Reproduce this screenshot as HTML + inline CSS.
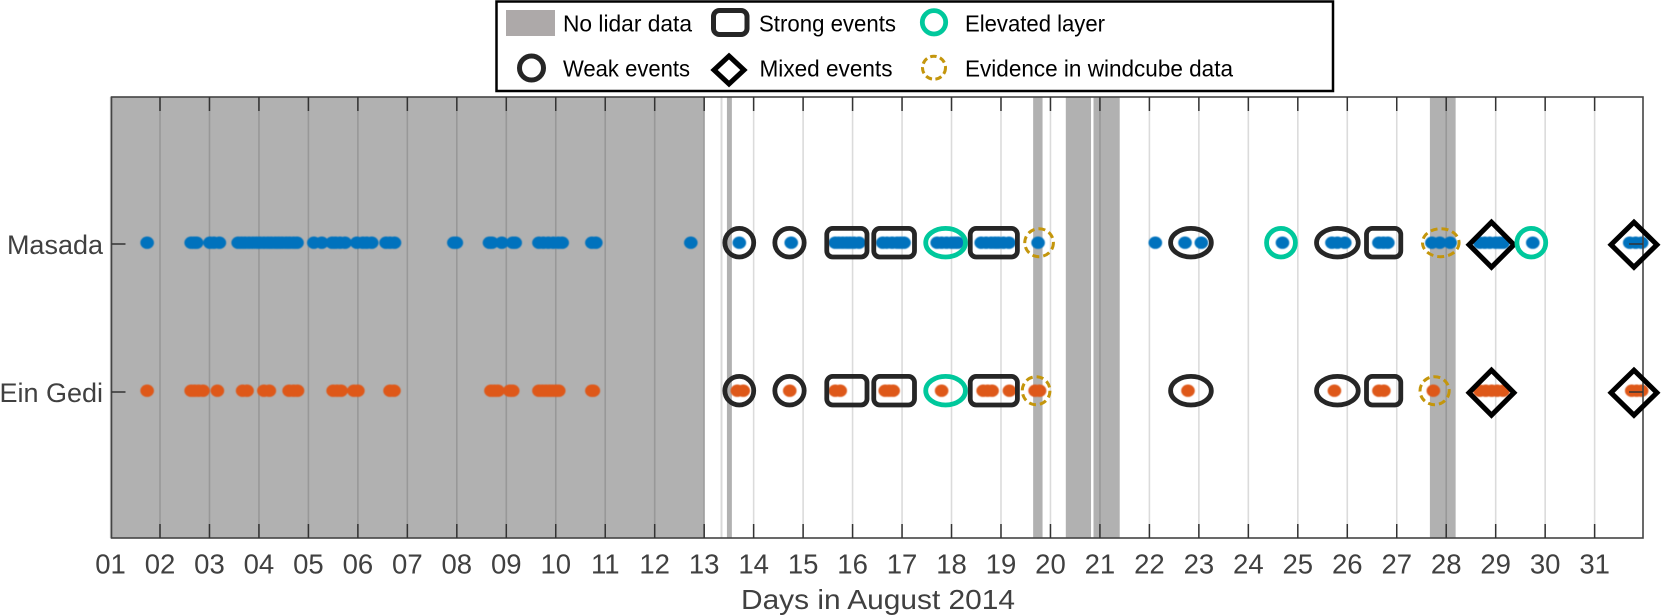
<!DOCTYPE html>
<html lang="en">
<head>
<meta charset="utf-8">
<title>Days in August 2014 event chart</title>
<style>
html,body{margin:0;padding:0;background:#fff;}
body{width:1661px;height:616px;overflow:hidden;}
svg{display:block;}
text{font-family:"Liberation Sans",sans-serif;}
</style>
</head>
<body>
<svg id="chart" xmlns="http://www.w3.org/2000/svg" width="1661" height="616" viewBox="0 0 1661 616">
  <g id="plot"></g>
  <g>
    <rect x="496.5" y="1.5" width="836.5" height="89.5" fill="#fff" stroke="#000" stroke-width="2.5"/>
    <rect x="506" y="10" width="49" height="26" fill="#ADA9A9"/>
    <text x="563" y="31.5" font-size="23" fill="#000" textLength="129" lengthAdjust="spacingAndGlyphs">No lidar data</text>
    <rect x="713.5" y="10.5" width="33.5" height="24" rx="6" fill="none" stroke="#262626" stroke-width="5"/>
    <text x="759" y="31.5" font-size="23" fill="#000" textLength="137" lengthAdjust="spacingAndGlyphs">Strong events</text>
    <circle cx="934" cy="22.3" r="11.7" fill="none" stroke="#00C89C" stroke-width="4.8"/>
    <text x="965" y="31.5" font-size="23" fill="#000" textLength="140" lengthAdjust="spacingAndGlyphs">Elevated layer</text>
    <circle cx="531.5" cy="68" r="12" fill="none" stroke="#262626" stroke-width="5"/>
    <text x="563" y="76.5" font-size="23" fill="#000" textLength="127" lengthAdjust="spacingAndGlyphs">Weak events</text>
    <polygon points="729,56 744,70 729,84 714,70" fill="none" stroke="#000" stroke-width="5"/>
    <text x="759.5" y="76.5" font-size="23" fill="#000" textLength="133" lengthAdjust="spacingAndGlyphs">Mixed events</text>
    <circle cx="934" cy="67.7" r="11.5" fill="none" stroke="#C4960C" stroke-width="3" stroke-dasharray="6.5 3.5"/>
    <text x="965" y="76.5" font-size="23" fill="#000" textLength="268" lengthAdjust="spacingAndGlyphs">Evidence in windcube data</text>
  </g>
</svg>
<script>
const dayTicks = [1,2,3,4,5,6,7,8,9,10,11,12,13,14,15,16,17,18,19,20,21,22,23,24,25,26,27,28,29,30,31];
const dayLabels = ["01","02","03","04","05","06","07","08","09","10","11","12","13","14","15","16","17","18","19","20","21","22","23","24","25","26","27","28","29","30","31"];
const siteNames = ["Masada","Ein Gedi"];
const noDataStart = [1,13.33,13.46,19.65,20.31,20.87,27.67];
const noDataEnd = [13.01,13.37,13.56,19.84,20.82,21.40,28.19];
const masadaDays = [1.74,2.63,2.69,2.74,3.01,3.09,3.2,3.58,3.65,3.72,3.8,3.88,3.95,4.02,4.1,4.18,4.25,4.33,4.4,4.47,4.55,4.62,4.7,4.77,5.11,5.27,5.48,5.55,5.64,5.74,5.98,6.1,6.18,6.28,6.57,6.65,6.74,7.94,7.99,8.66,8.71,8.91,9.13,9.18,9.66,9.75,9.85,9.95,10.05,10.13,10.73,10.81,12.73,13.71,14.76,15.65,15.72,15.8,15.88,15.95,16.03,16.13,16.61,16.7,16.8,16.9,16.97,17.04,17.71,17.8,17.9,18.0,18.07,18.13,18.6,18.7,18.8,18.88,18.95,19.05,19.16,19.75,22.12,22.72,23.05,24.69,25.69,25.8,25.95,26.64,26.73,26.82,27.71,27.87,28.08,28.68,28.78,28.88,29.0,29.08,29.15,29.75,31.71,31.83,31.95];
const einGediDays = [1.74,2.63,2.7,2.78,2.87,3.16,3.67,3.76,4.1,4.21,4.61,4.7,4.78,5.5,5.58,5.66,5.92,6.0,6.65,6.73,8.69,8.76,8.83,9.07,9.13,9.66,9.73,9.8,9.87,9.93,10.0,10.06,10.73,10.76,13.67,13.79,14.73,15.65,15.75,16.66,16.74,16.82,17.8,18.64,18.73,18.82,19.17,19.69,19.78,22.78,25.74,26.64,26.74,27.74,28.68,28.8,28.92,29.03,29.15,31.75,31.85,31.95];
const eventKinds = ["weak","weak","strong","strong","elevated","strong","evidence","weak","elevated","weak","strong","evidence","mixed","elevated","mixed","weak","weak","strong","strong","elevated","strong","evidence","weak","weak","strong","evidence","mixed","mixed"];
const eventSite = [0,0,0,0,0,0,0,0,0,0,0,0,0,0,0,1,1,1,1,1,1,1,1,1,1,1,1,1];
const eventFrom = [13.37,14.38,15.43,16.38,17.43,18.33,19.45,22.38,24.32,25.33,26.34,27.49,28.39,29.38,31.26,13.37,14.38,15.43,16.38,17.43,18.33,19.40,22.38,25.33,26.34,27.44,28.39,31.26];
const eventTo = [14.05,15.07,16.34,17.30,18.33,19.38,20.09,23.30,25.0,26.27,27.13,28.29,29.44,30.06,32.33,14.05,15.07,16.34,17.30,18.33,19.38,20.02,23.30,26.27,27.13,28.09,29.44,32.33];

const NS = "http://www.w3.org/2000/svg";
const plot = document.getElementById("plot");
const left = 111.5, right = 1643, top_ = 97, bottom = 538;
const xScale = d => 160 + (d - 2) * 49.47;
const yScale = i => [244, 392][i];
const markerY = i => yScale(i) - 1.3;

function make(tag, attrs, parent) {
  const el = document.createElementNS(NS, tag);
  for (const k in attrs) el.setAttribute(k, attrs[k]);
  (parent || plot).appendChild(el);
  return el;
}

noDataStart.forEach((s, i) => {
  const w = xScale(noDataEnd[i]) - xScale(s);
  const el = make("rect", {x: xScale(s), y: top_, width: w, height: bottom - top_, fill: (w < 3 ? "#D8D8D8" : "#B1B1B1")});
  
  
});

dayTicks.forEach(d => {
  const el = make("line", {x1: xScale(d), x2: xScale(d), y1: top_, y2: bottom, stroke: "#000", "stroke-opacity": 0.14, "stroke-width": 1.6});
  
  
});

function drawSeries(days, row, color, name) {
  const group = make("g", {style: "filter:blur(0.4px)"});
  
  
  days.forEach(d => {
    const el = make("ellipse", {cx: xScale(d), cy: markerY(row), rx: 6.8, ry: 6.2, fill: color}, group);
    
    
  });
}
drawSeries(masadaDays, 0, "#0072BD", "masada-point");
drawSeries(einGediDays, 1, "#DE5819", "ein-gedi-point");

const box = make("rect", {x: left, y: top_, width: right - left, height: bottom - top_, fill: "none", stroke: "#444", "stroke-width": 1.6});



dayTicks.forEach((d, i) => {
  const x = xScale(d);
  if (i > 0) {
    const t1 = make("line", {x1: x, x2: x, y1: bottom, y2: bottom - 14, stroke: "#333", "stroke-width": 1.5});
    
    
    const t2 = make("line", {x1: x, x2: x, y1: top_, y2: top_ + 14, stroke: "#333", "stroke-width": 1.5});
    
    
  }
  const lab = make("text", {x: x, y: 573.5, "font-size": 27.5, fill: "#404040", "text-anchor": "middle"});
  lab.textContent = dayLabels[i];
  
  
});

siteNames.forEach((n, i) => {
  const y = yScale(i);
  const t1 = make("line", {x1: left, x2: left + 14, y1: y, y2: y, stroke: "#333", "stroke-width": 1.5});
  
  
  const t2 = make("line", {x1: right, x2: right - 14, y1: y, y2: y, stroke: "#333", "stroke-width": 1.5});
  
  
  const lab = make("text", {x: 103, y: y + 10, "font-size": 27, fill: "#404040", "text-anchor": "end"});
  lab.textContent = n;
  
  
});

const xTitle = make("text", {x: 878, y: 609, "font-size": 28, fill: "#404040", "text-anchor": "middle", textLength: 274, lengthAdjust: "spacingAndGlyphs"});
xTitle.textContent = "Days in August 2014";



eventKinds.forEach((kind, i) => {
  const x0 = xScale(eventFrom[i]), x1 = xScale(eventTo[i]);
  const cx = (x0 + x1) / 2, rxOuter = (x1 - x0) / 2;
  const cy = markerY(eventSite[i]);
  let el;
  if (kind === "weak") {
    el = make("ellipse", {cx: cx, cy: cy, rx: rxOuter - 2.4, ry: 14.3, fill: "none", stroke: "#262626", "stroke-width": 4.8});
    
  } else if (kind === "strong") {
    el = make("rect", {x: x0 + 2.4, y: cy - 14.3, width: x1 - x0 - 4.8, height: 28.6, rx: 6, fill: "none", stroke: "#262626", "stroke-width": 4.8});
    
  } else if (kind === "elevated") {
    el = make("ellipse", {cx: cx, cy: cy, rx: rxOuter - 2.4, ry: 14.3, fill: "none", stroke: "#00C89C", "stroke-width": 4.8});
    
  } else if (kind === "evidence") {
    el = make("ellipse", {cx: cx, cy: cy, rx: rxOuter - 1.5, ry: 14, fill: "none", stroke: "#C4960C", "stroke-width": 3, "stroke-dasharray": "7 4"});
    
  } else {
    const h = 22.5, w = rxOuter - 3.5, my = cy + 2;
    el = make("polygon", {points: [cx, my - h, cx + w, my, cx, my + h, cx - w, my].join(" "), fill: "none", stroke: "#000", "stroke-width": 5});
    
  }
  
});
</script>
</body>
</html>
